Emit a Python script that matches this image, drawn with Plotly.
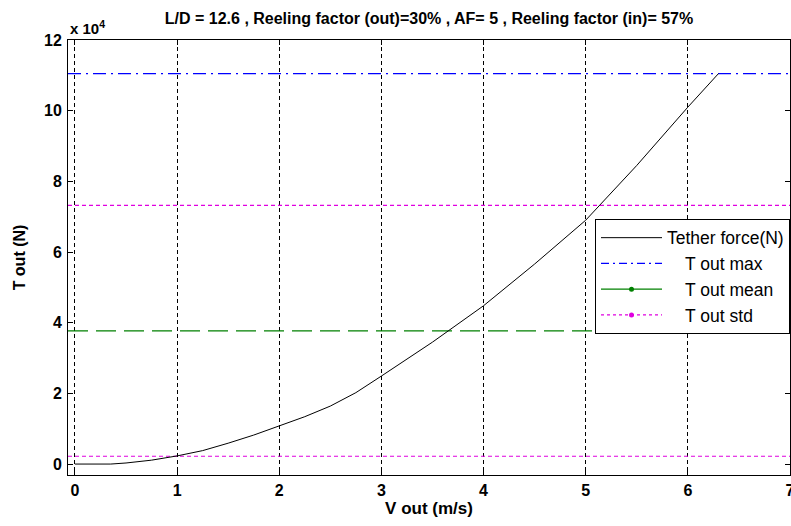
import plotly.graph_objects as go

# ---- data ----
v_out = [0, 0.35, 0.5, 0.75, 1, 1.25, 1.5, 1.75, 2, 2.25, 2.5, 2.75, 3, 3.5, 4, 4.5, 5, 5.5, 6, 6.3]
tether_force = [0, 0, 300, 1100, 2300, 3800, 5900, 8200, 10800, 13400, 16400, 20200, 24900,
                34500, 44800, 56600, 69000, 84500, 101000, 110500]
t_out_max = 110500
t_out_mean = 37700
t_out_std = 35500
x_range = [-0.068, 7]
y_range = [-3100, 120000]
x_ticks = [0, 1, 2, 3, 4, 5, 6, 7]
y_tick_vals = [0, 20000, 40000, 60000, 80000, 100000, 120000]
y_tick_text = ["0", "2", "4", "6", "8", "10", "12"]
title_text = "L/D = 12.6 , Reeling factor (out)=30% , AF= 5 , Reeling factor (in)= 57%"

FONT = "Liberation Sans"
BLUE, GREEN, MAG = "#0000ff", "#008000", "#e000e0"
DASH_MAX, DASH_MEAN, DASH_STD = "13px,5px,2px,5px", "20px,8px", "4px,3px"
fig = go.Figure()

xs = [x_range[0], x_range[1]]
# plotted lines (no legend)
fig.add_trace(go.Scatter(x=xs, y=[t_out_max] * 2, mode="lines", showlegend=False,
                         line=dict(color=BLUE, width=1.2, dash=DASH_MAX)))
fig.add_trace(go.Scatter(x=xs, y=[t_out_mean] * 2, mode="lines", showlegend=False,
                         line=dict(color=GREEN, width=1.2, dash=DASH_MEAN)))
fig.add_trace(go.Scatter(x=xs, y=[t_out_mean + t_out_std] * 2, mode="lines", showlegend=False,
                         line=dict(color=MAG, width=1.2, dash=DASH_STD)))
fig.add_trace(go.Scatter(x=xs, y=[t_out_mean - t_out_std] * 2, mode="lines", showlegend=False,
                         line=dict(color=MAG, width=1.2, dash=DASH_STD)))
fig.add_trace(go.Scatter(x=v_out, y=tether_force, mode="lines", showlegend=False,
                         line=dict(color="black", width=1)))

# legend entries
IND = "\u00a0" * 3 + "\u2009"
fig.add_trace(go.Scatter(x=[None], y=[None], mode="lines", name="Tether force(N)",
                         legendgroup="a", line=dict(color="black", width=1)))
fig.add_trace(go.Scatter(x=[None], y=[None], mode="lines", name=IND + "T out max",
                         legendgroup="b", line=dict(color=BLUE, width=1.2, dash="8px,4px,2px,4px")))
fig.add_trace(go.Scatter(x=[None], y=[None], mode="lines+markers", name=IND + "T out mean",
                         legendgroup="c", line=dict(color=GREEN, width=1.2),
                         marker=dict(color=GREEN, size=5)))
fig.add_trace(go.Scatter(x=[None], y=[None], mode="lines+markers", name=IND + "T out std",
                         legendgroup="d", line=dict(color=MAG, width=1.2, dash="3px,3px"),
                         marker=dict(color=MAG, size=5)))

fig.update_layout(
    width=791, height=526,
    margin=dict(l=68, r=1, t=40, b=51, autoexpand=False),
    paper_bgcolor="white", plot_bgcolor="white",
    title=dict(text=title_text, x=0.5, xref="paper", xanchor="center", y=0.9658, yref="container",
               yanchor="middle",
               font=dict(family=FONT, size=16, color="black", weight="bold")),
    font=dict(family=FONT, color="black"),
    legend=dict(x=1.0, xanchor="right", y=0.589, yanchor="top",
                bgcolor="white", bordercolor="black", borderwidth=1,
                font=dict(family=FONT, size=17.5, color="black"),
                traceorder="grouped", tracegroupgap=0, itemwidth=61),
    xaxis=dict(range=x_range, tickvals=x_ticks, ticks="inside", ticklen=5, tickcolor="black",
               showline=True, linecolor="black", linewidth=1, mirror="ticks",
               showgrid=True, gridcolor="black", griddash="4px,3px", gridwidth=1,
               zeroline=False, ticklabelstandoff=1, ticklabeloverflow="allow",
               automargin=False,
               tickfont=dict(family=FONT, size=16, color="black", weight="bold"),
               title=dict(text="V out (m/s)", standoff=0,
                          font=dict(family=FONT, size=17, color="black", weight="bold"))),
    yaxis=dict(range=y_range, tickvals=y_tick_vals, ticktext=y_tick_text, ticks="inside",
               ticklen=5, tickcolor="black", ticklabelstandoff=2, automargin=False,
               showline=True, linecolor="black", linewidth=1, mirror="ticks",
               showgrid=False, zeroline=False,
               tickfont=dict(family=FONT, size=16, color="black", weight="bold"),
               title=dict(text="T out (N)", standoff=14,
                          font=dict(family=FONT, size=16, color="black", weight="bold"))),
)

fig.add_annotation(text="x 10<sup>4</sup>", xref="paper", yref="paper", x=0.0, y=1.0,
                   xanchor="left", yanchor="bottom", showarrow=False, yshift=1,
                   font=dict(family=FONT, size=15, color="black", weight="bold"))

fig.write_html(
    "out.html",
    config={"displayModeBar": False},
    post_script="document.body.style.margin='0';document.body.style.overflow='hidden';",
)
